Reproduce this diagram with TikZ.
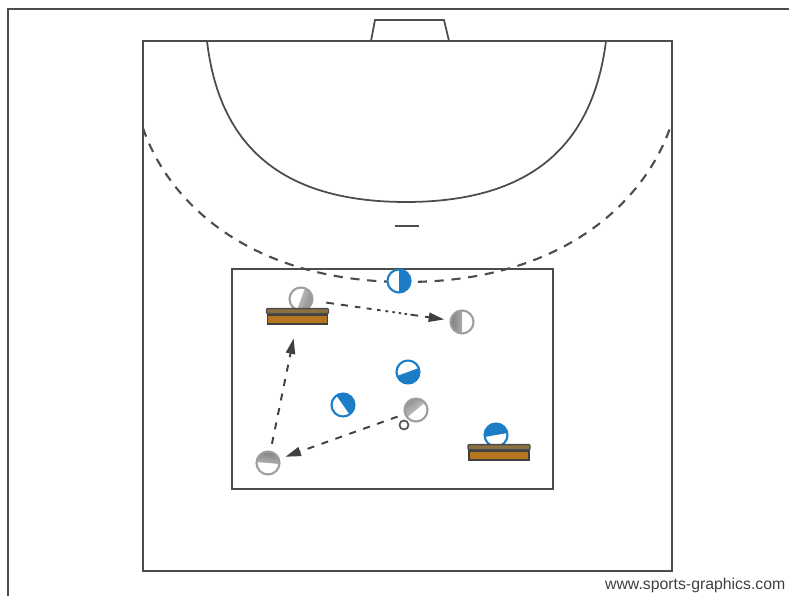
\documentclass[tikz,border=0pt]{standalone}
\usepackage{fontspec}
\setmainfont{Liberation Sans}
\usetikzlibrary{positioning,arrows.meta}
\definecolor{linegray}{gray}{0.3}
\definecolor{ballblue}{HTML}{1C7DC6}
\definecolor{ballgray}{gray}{0.62}
\definecolor{lidbrown}{HTML}{8C7040}
\definecolor{benchbrown}{HTML}{B5761F}
\newcommand{\halfball}[1]{([shift={(#1+90:0.14)}]path picture bounding box.center) -- ([shift={(#1+45:0.2)}]path picture bounding box.center) -- ([shift={(#1-45:0.2)}]path picture bounding box.center) -- ([shift={(#1-90:0.14)}]path picture bounding box.center) -- cycle}
\tikzset{
  courtline/.style={draw=linegray, line width=0.5pt},
  zoneline/.style={courtline, line width=0.6pt, dash pattern=on 2.6pt off 2.2pt},
  passarrow/.style={-{Triangle[length=4.4pt, width=2.6pt]}, draw=black!75, line width=0.55pt, dash pattern=on 2pt off 2.2pt},
  dotarrow/.style={passarrow, dash pattern=on 2.2pt off 2pt on 2pt off 2pt on 1.6pt off 1.8pt on 1.4pt off 1.6pt on 1pt off 1.4pt on 0.8pt off 1.2pt on 0.7pt off 1.1pt on 0.7pt off 1pt on 0.7pt off 1pt},
  blueplayer/.style={circle, draw=ballblue, line width=0.6pt, fill=white, inner sep=0pt, minimum size=0.23cm,
    path picture={\fill[ballblue] \halfball{#1};}},
  grayplayer/.style={circle, draw=ballgray, line width=0.6pt, fill=white, inner sep=0pt, minimum size=0.23cm,
    path picture={\shade[top color=black!55, bottom color=black!15, shading angle=#1-90] \halfball{#1};}},
  benchbody/.style={draw=black!75, line width=0.4pt, fill=benchbrown, inner sep=0pt, minimum width=0.6cm, minimum height=0.09cm},
  benchlid/.style={draw=black!70, line width=0.4pt, fill=lidbrown, rounded corners=0.3pt, inner sep=0pt, minimum width=0.62cm, minimum height=0.05cm},
  cone/.style={circle, draw=black!65, line width=0.5pt, fill=white, inner sep=0pt, minimum size=0.09cm},
  sitelabel/.style={font=\fontsize{4.5pt}{5pt}\selectfont, text=black!75, inner sep=0pt}
}
\begin{document}
\begin{tikzpicture}
  \useasboundingbox (0,0) rectangle (7.89,5.96);
  % frame and court
  \draw[courtline] (0.08,0) -- (0.08,5.87) -- (7.89,5.87);
  \draw[courtline] (1.43,0.25) rectangle (6.72,5.55);
  \draw[courtline] (3.71,5.55) -- (3.75,5.76) -- (4.44,5.76) -- (4.49,5.55);
  \draw[courtline] (2.07,5.55) .. controls (2.18,4.61) and (2.70,3.94) .. (4.06,3.94) .. controls (5.42,3.94) and (5.94,4.61) .. (6.06,5.55);
  \draw[zoneline] (1.43,4.68) .. controls (1.68,3.94) and (2.50,3.14) .. (4.06,3.14) .. controls (5.62,3.14) and (6.44,3.94) .. (6.70,4.68);
  \draw[courtline] (3.95,3.70) -- (4.19,3.70);
  \draw[courtline] (2.32,1.07) rectangle (5.53,3.27);
  % players
  \node[blueplayer=0] (def1) at (3.99,3.15) {};
  \node[blueplayer=-70] (def2) at (4.08,2.24) {};
  \node[blueplayer=35] (def3) at (3.43,1.91) {};
  \node[blueplayer=100] (def4) at (4.96,1.61) {};
  \node[grayplayer=-20] (att1) at (3.01,2.97) {};
  \node[grayplayer=180] (att2) at (4.62,2.74) {};
  \node[grayplayer=130] (att3) at (4.16,1.86) {};
  \node[grayplayer=85] (att4) at (2.68,1.33) {};
  \node[cone] (ball) at (4.04,1.71) {};
  % benches
  \node[benchbody] (bench1) at (2.975,2.765) {};
  \node[benchlid, above=0pt of bench1] (lid1) {};
  \node[benchbody] (bench2) at (4.99,1.405) {};
  \node[benchlid, above=0pt of bench2] (lid2) {};
  % passes
  \draw[passarrow, shorten <=0.07cm, shorten >=0.06cm] (att3) -- (att4);
  \draw[passarrow, shorten <=0.07cm, shorten >=0.14cm] (att4) -- (bench1);
  \draw[dotarrow, shorten <=0.13cm, shorten >=0.055cm] (att1) -- (att2);
  \node[sitelabel, anchor=base east] (site) at (7.86,0.06) {www.sports-graphics.com};
\end{tikzpicture}
\end{document}
